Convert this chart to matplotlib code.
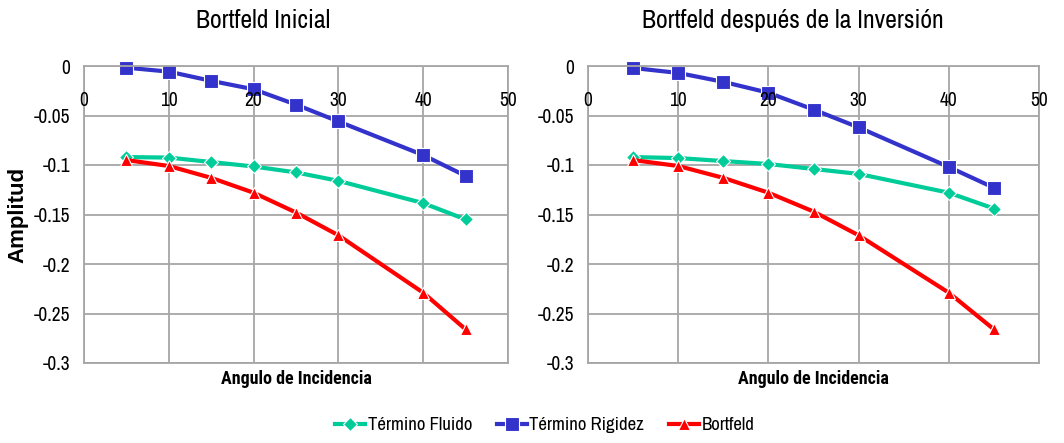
import matplotlib

matplotlib.use("Agg")
import matplotlib.pyplot as plt  # noqa: E402
from matplotlib import font_manager  # noqa: E402

# narrow sans (the source chart uses a condensed Arial-like face)
_available = {f.name for f in font_manager.fontManager.ttflist}
FONT = next((n for n in ["Archivo Narrow", "Roboto Condensed", "PT Sans Narrow",
                         "Barlow Condensed", "Liberation Sans"] if n in _available),
            "DejaVu Sans")
BOLD_FONT = next((n for n in ["Roboto Condensed", "PT Sans Narrow", "Barlow Condensed"]
                  if n in _available), FONT)
plt.rcParams["font.family"] = [FONT, "DejaVu Sans"]

ANGULOS = [5, 10, 15, 20, 25, 30, 40, 45]

# Bortfeld Inicial
INI_FLUIDO = [-0.092, -0.0925, -0.097, -0.1015, -0.1075, -0.116, -0.1385, -0.155]
INI_RIGIDEZ = [-0.0017, -0.0057, -0.015, -0.0235, -0.039, -0.056, -0.090, -0.111]
INI_BORTFELD = [-0.095, -0.101, -0.113, -0.128, -0.148, -0.171, -0.229, -0.266]

# Bortfeld después de la Inversión
INV_FLUIDO = [-0.092, -0.093, -0.096, -0.099, -0.104, -0.109, -0.128, -0.144]
INV_RIGIDEZ = [-0.002, -0.007, -0.016, -0.027, -0.044, -0.062, -0.102, -0.123]
INV_BORTFELD = [-0.095, -0.101, -0.113, -0.128, -0.147, -0.171, -0.229, -0.266]

TITLES = ["Bortfeld Inicial", "Bortfeld después de la Inversión"]
SERIES_NAMES = ["Término Fluido", "Término Rigidez", "Bortfeld"]
X_TICKS = [0, 10, 20, 30, 40, 50]
Y_TICKS = [0, -0.05, -0.1, -0.15, -0.2, -0.25, -0.3]
Y_LABELS = ["0", "-0.05", "-0.1", "-0.15", "-0.2", "-0.25", "-0.3"]

COLOR_FLUIDO = "#00CC99"
COLOR_RIGIDEZ = "#3333CC"
COLOR_BORTFELD = "#FF0000"
COLOR_GRID = "#A6A6A6"

fig = plt.figure(figsize=(10.64, 4.43), dpi=100)
fig.patch.set_facecolor("white")

W, H = 1064, 443
axes_px = [(84, 66, 508, 363), (588, 66, 1039, 363)]
title_cx = [263, 793]
datasets = [
    (INI_FLUIDO, INI_RIGIDEZ, INI_BORTFELD),
    (INV_FLUIDO, INV_RIGIDEZ, INV_BORTFELD),
]

handles = None
for (x0, y0, x1, y1), cx, title, (fl, rg, bf) in zip(axes_px, title_cx, TITLES, datasets):
    ax = fig.add_axes([x0 / W, 1 - y1 / H, (x1 - x0) / W, (y1 - y0) / H])
    ax.set_xlim(0, 50)
    ax.set_ylim(-0.3, 0)
    ax.set_xticks(X_TICKS)
    ax.set_yticks(Y_TICKS)
    ax.set_yticklabels(Y_LABELS, fontsize=14)
    ax.tick_params(axis="y", length=0, pad=10)
    ax.tick_params(axis="x", length=0, labelbottom=False)
    ax.grid(True, color=COLOR_GRID, lw=1.3)
    ax.set_axisbelow(True)
    for s in ax.spines.values():
        s.set_color(COLOR_GRID)
        s.set_linewidth(1.3)
    # x labels sit just under the y=0 axis line
    for xv in X_TICKS:
        ax.text(xv, -0.035, str(xv), ha="center", va="center", fontsize=14)

    l1, = ax.plot(ANGULOS, fl, color=COLOR_FLUIDO, lw=3, marker="D", ms=7,
                  mec="white", mew=0.8, label=SERIES_NAMES[0], clip_on=False)
    l2, = ax.plot(ANGULOS, rg, color=COLOR_RIGIDEZ, lw=3, marker="s", ms=10.5,
                  mec="white", mew=0.8, label=SERIES_NAMES[1], clip_on=False)
    l3, = ax.plot(ANGULOS, bf, color=COLOR_BORTFELD, lw=3, marker="^", ms=8,
                  mec="white", mew=0.8, label=SERIES_NAMES[2], clip_on=False)
    handles = [l1, l2, l3]

    fig.text(cx / W, 1 - 20 / H, title, ha="center", va="center", fontsize=18.5)
    ax.set_xlabel("Angulo de Incidencia", fontsize=13, fontweight="bold", labelpad=5,
                  family=[BOLD_FONT, "DejaVu Sans"])

fig.text(18 / W, 1 - 215 / H, "Amplitud", rotation=90, ha="center", va="center",
         fontsize=16, fontweight="bold", family=["Liberation Sans", "DejaVu Sans"])

fig.legend(handles, SERIES_NAMES, loc="center", bbox_to_anchor=(0.512, 1 - 425 / H),
           ncol=3, frameon=False, fontsize=13.5, handlelength=1.6, handletextpad=0.15,
           columnspacing=1.3)

fig.savefig("out.png", dpi=100)
